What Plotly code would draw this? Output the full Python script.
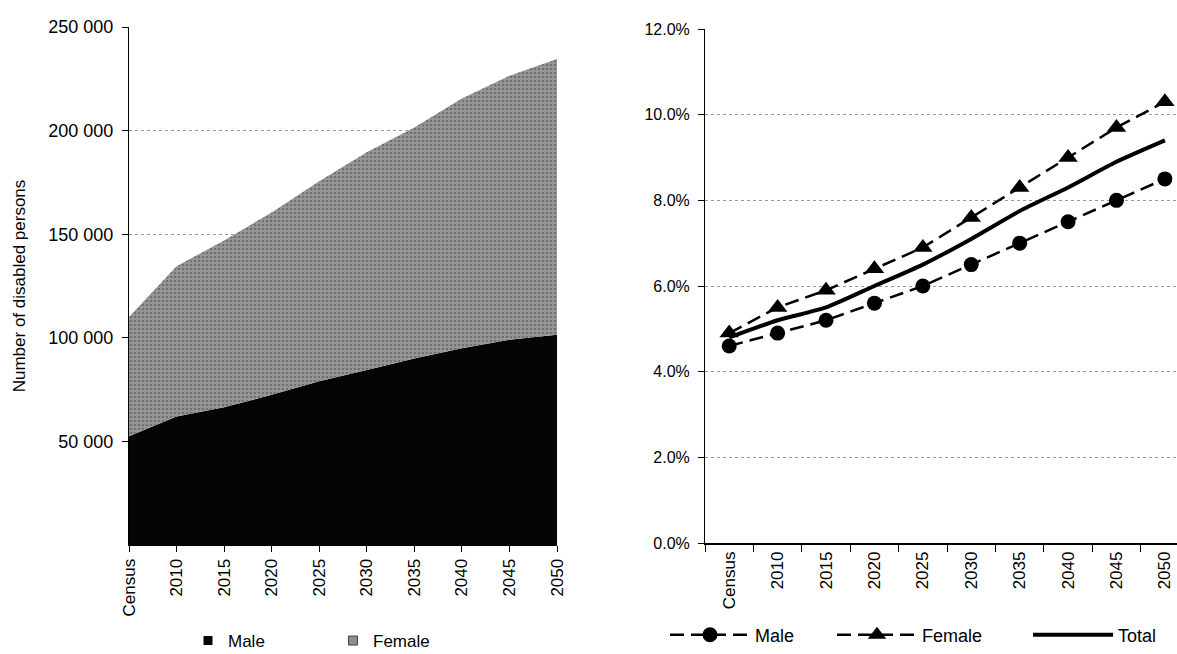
import plotly.graph_objects as go

# Projection periods
categories = ["Census", "2010", "2015", "2020", "2025", "2030", "2035", "2040", "2045", "2050"]

# Number of disabled persons (stacked area)
male_count = [52500, 62000, 66500, 72500, 79000, 84500, 90000, 95000, 99000, 101500]
female_count = [57500, 72500, 80500, 88000, 96500, 105000, 111500, 120500, 127500, 133000]
count_ticks = [50000, 100000, 150000, 200000, 250000]

# Disability prevalence, percent
male_pct = [4.6, 4.9, 5.2, 5.6, 6.0, 6.5, 7.0, 7.5, 8.0, 8.5]
female_pct = [4.9, 5.5, 5.9, 6.4, 6.9, 7.6, 8.3, 9.0, 9.7, 10.3]
total_pct = [4.8, 5.2, 5.5, 6.0, 6.5, 7.1, 7.75, 8.3, 8.9, 9.4]

W, H = 1177, 654
FONT = "Liberation Sans, Arial, sans-serif"

fig = go.Figure()

# Left panel: stacked areas
fig.add_trace(go.Scatter(
    x=categories, y=male_count, stackgroup="one", mode="none",
    fillcolor="#050505", name="Male", showlegend=False,
    xaxis="x", yaxis="y",
))
fig.add_trace(go.Scatter(
    x=categories, y=female_count, stackgroup="one", mode="none",
    fillcolor="#8e8e8e",
    fillpattern=dict(shape=".", bgcolor="#979797", fgcolor="#4a4a4a", size=4, solidity=0.35),
    name="Female", showlegend=False,
    xaxis="x", yaxis="y",
))
# Legend keys for the left panel
fig.add_trace(go.Scatter(
    x=[None], y=[None], mode="markers", name="Male",
    marker=dict(symbol="square", size=9, color="#050505"),
    legend="legend", xaxis="x", yaxis="y",
))
fig.add_trace(go.Scatter(
    x=[None], y=[None], mode="markers", name="Female",
    marker=dict(symbol="square", size=9, color="#8e8e8e", line=dict(color="#444", width=1)),
    legend="legend", xaxis="x", yaxis="y",
))

# Right panel: prevalence lines
DASH = "14px,7px"
fig.add_trace(go.Scatter(
    x=categories, y=male_pct, mode="lines+markers", name="Male",
    line=dict(color="black", width=2.5, dash=DASH),
    marker=dict(symbol="circle", size=15, color="black"),
    legend="legend2", xaxis="x2", yaxis="y2",
))
fig.add_trace(go.Scatter(
    x=categories, y=female_pct, mode="lines+markers", name="Female",
    line=dict(color="black", width=2.5, dash=DASH),
    marker=dict(symbol="triangle-up", size=17, color="black"),
    legend="legend3", xaxis="x2", yaxis="y2",
))
fig.add_trace(go.Scatter(
    x=categories, y=total_pct, mode="lines", name="Total",
    line=dict(color="black", width=4, shape="spline", smoothing=0.6),
    legend="legend4", xaxis="x2", yaxis="y2",
))

x_tick_font = dict(family=FONT, size=17, color="black")

legend_common = dict(
    orientation="h", xanchor="left", yanchor="middle",
    bgcolor="rgba(0,0,0,0)", borderwidth=0,
)

fig.update_layout(
    width=W, height=H,
    margin=dict(l=0, r=0, t=0, b=0, autoexpand=False),
    paper_bgcolor="white", plot_bgcolor="white",
    separators=". ",
    font=dict(family=FONT, size=17, color="black"),
    xaxis=dict(
        domain=[129 / W, 557 / W], anchor="y", type="category",
        range=[0, 9], tickangle=-90, tickfont=x_tick_font,
        showline=True, linecolor="black", linewidth=1,
        ticks="outside", ticklen=6, tickcolor="black",
        showgrid=False, zeroline=False, automargin=False,
    ),
    yaxis=dict(
        domain=[1 - 545 / H, 1 - 27 / H], anchor="x",
        range=[0, 250000], tickvals=count_ticks, tickformat=",d",
        tickfont=dict(family=FONT, size=18, color="black"),
        showline=True, linecolor="black", linewidth=1,
        ticks="outside", ticklen=6, tickcolor="black", ticklabelstandoff=5,
        showgrid=True, gridcolor="#9a9a9a", griddash="dot", gridwidth=1,
        zeroline=False, automargin=False,
        title=dict(text="Number of disabled persons", font=dict(family=FONT, size=17), standoff=18),
        layer="below traces",
    ),
    xaxis2=dict(
        domain=[705 / W, 1.0], anchor="y2", type="category",
        range=[-0.5, 9.25], tickangle=-90, tickfont=x_tick_font,
        showline=True, linecolor="black", linewidth=1.5,
        ticks="outside", ticklen=7, tickcolor="black", tickson="boundaries",
        showgrid=False, zeroline=False, automargin=False,
    ),
    yaxis2=dict(
        domain=[1 - 543 / H, 1 - 29 / H], anchor="x2",
        range=[0, 12], dtick=2, tickformat=".1f", ticksuffix="%",
        tickfont=dict(family=FONT, size=16, color="black"),
        showline=True, linecolor="black", linewidth=1,
        ticks="outside", ticklen=6, tickcolor="black", ticklabelstandoff=5,
        showgrid=True, gridcolor="#9a9a9a", griddash="dot", gridwidth=1,
        zeroline=False, automargin=False,
    ),
    legend=dict(
        x=188 / W, y=1 - 641 / H, traceorder="normal",
        font=dict(family=FONT, size=17), itemwidth=30,
        entrywidth=100, **legend_common,
    ),
    legend2=dict(
        x=665 / W, y=1 - 635 / H,
        font=dict(family=FONT, size=18), itemwidth=80, **legend_common,
    ),
    legend3=dict(
        x=832 / W, y=1 - 635 / H,
        font=dict(family=FONT, size=18), itemwidth=80, **legend_common,
    ),
    legend4=dict(
        x=1028 / W, y=1 - 635 / H,
        font=dict(family=FONT, size=18), itemwidth=80, **legend_common,
    ),
)

fig.write_html("out.html")
